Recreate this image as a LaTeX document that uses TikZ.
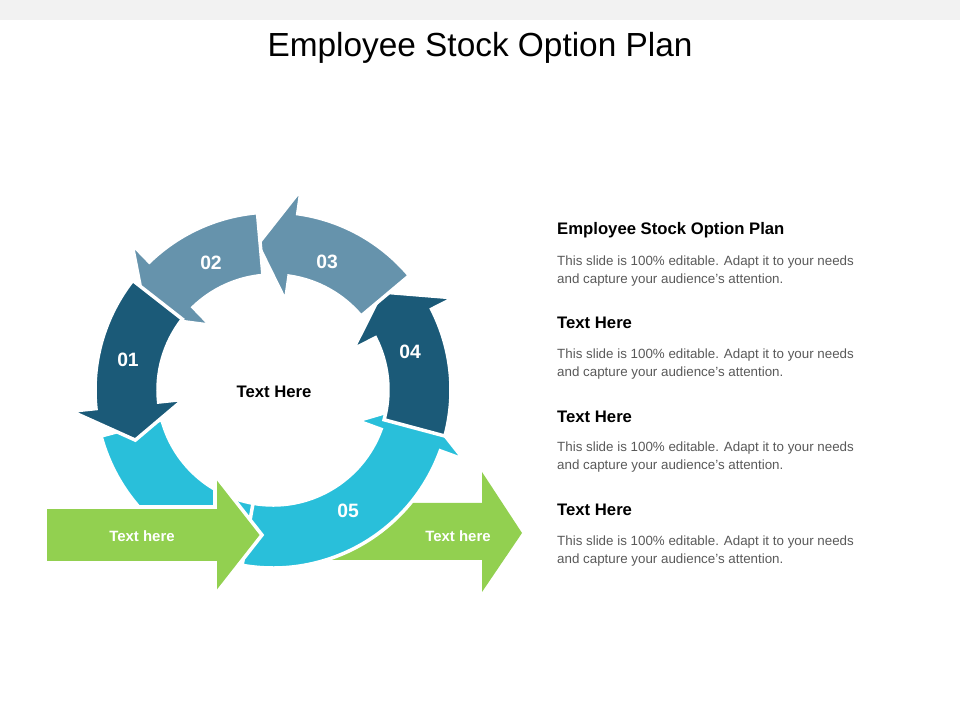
\documentclass[tikz,border=0pt]{standalone}
\usepackage{fontspec}
\setmainfont{Liberation Sans}
\definecolor{dk}{HTML}{1B5A78}
\definecolor{gb}{HTML}{6693AC}
\definecolor{cy}{HTML}{29BFDA}
\definecolor{gr}{HTML}{92D050}
\definecolor{tx}{HTML}{595959}
\newcommand{\ringarrow}[4]{%
 \fill[#1,draw=white,line width=2pt] (#2:178) arc[start angle=#2,end angle=#3,radius=178] -- (#3:203) -- (#4:146.5) -- (#3:90) -- (#3:115) arc[start angle=#3,end angle=#2,radius=115] -- cycle;}
\begin{document}
\begin{tikzpicture}[x=0.02cm,y=0.02cm,
 num/.style={text=white,font=\bfseries\fontsize{11}{13}\selectfont},
 head/.style={anchor=west,font=\bfseries\fontsize{9.5}{11}\selectfont},
 body/.style={anchor=north west,text=tx,align=left,font=\fontsize{7.6}{10.2}\selectfont}]
\useasboundingbox (0,0) rectangle (960,720);
\fill[gray!10] (0,700) rectangle (960,720);
\node (title) at (480,672) {\fontsize{19}{22}\selectfont Employee Stock Option Plan};
% right green arrow
\fill[gr] (330,217) rectangle (482,160) -- (482,128) -- (522,187) -- (482,248) -- (482,217);
\begin{scope}[shift={(273,330)}]
 \fill[cy,draw=white,line width=2pt] (195:178) arc[start angle=195,end angle=265,radius=178] -- (265:115) arc[start angle=265,end angle=195,radius=115] -- cycle;
 \ringarrow{cy}{-100}{-20}{-5}
 \ringarrow{dk}{-15}{27}{42}
 \ringarrow{gb}{40}{82}{96}
 \ringarrow{gb}{95}{134}{150}
 \ringarrow{dk}{142}{186}{200}
\end{scope}
% left green arrow
\fill[gr,draw=white,line width=2pt] (45,157) -- (215,157) -- (215,125) -- (262,185) -- (215,245) -- (215,213) -- (45,213) -- cycle;
\node[num] (n1) at (128,360) {01};
\node[num] (n2) at (211,457) {02};
\node[num] (n3) at (327,458) {03};
\node[num] (n4) at (410,368) {04};
\node[num] (n5) at (348,209) {05};
\node[font=\bfseries\fontsize{9.5}{11}\selectfont] (c) at (274,328) {Text Here};
\node[text=white,font=\bfseries\fontsize{8.5}{10}\selectfont] (g1) at (142,184) {Text here};
\node[text=white,font=\bfseries\fontsize{8.5}{10}\selectfont] (g2) at (458,184) {Text here};
\node[head] (h1) at (551,490) {Employee Stock Option Plan};
\node[body] (b1) at (551,470) {This slide is 100\% editable. Adapt it to your needs\\and capture your audience's attention.};
\node[head] (h2) at (551,397) {Text Here};
\node[body] (b2) at (551,377) {This slide is 100\% editable. Adapt it to your needs\\and capture your audience's attention.};
\node[head] (h3) at (551,303) {Text Here};
\node[body] (b3) at (551,284) {This slide is 100\% editable. Adapt it to your needs\\and capture your audience's attention.};
\node[head] (h4) at (551,210) {Text Here};
\node[body] (b4) at (551,190) {This slide is 100\% editable. Adapt it to your needs\\and capture your audience's attention.};
\end{tikzpicture}
\end{document}
